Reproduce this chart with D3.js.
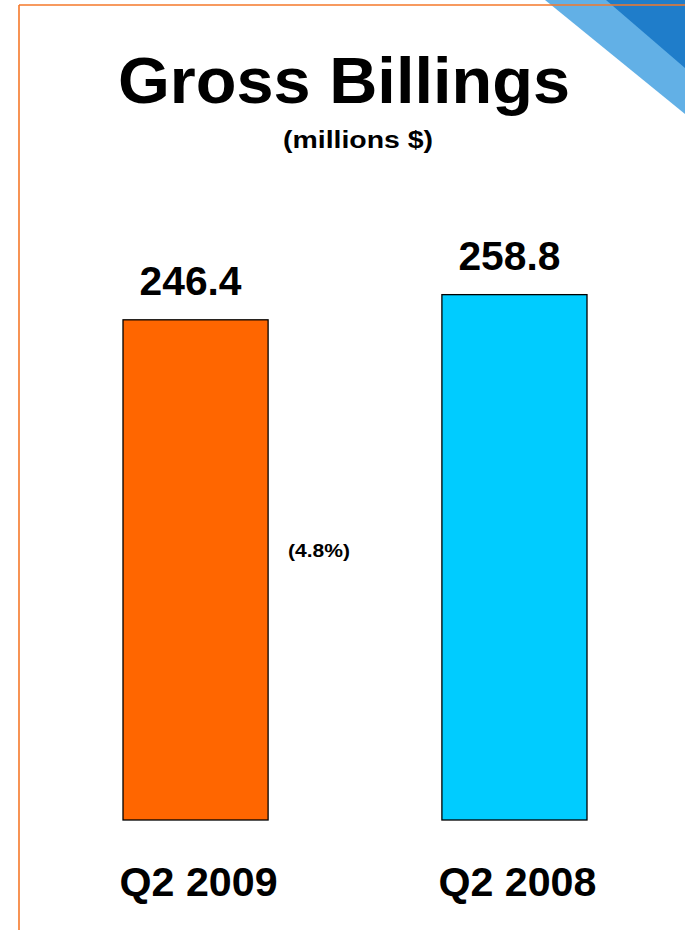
<!DOCTYPE html>
<html>
<head>
<meta charset="utf-8">
<script src="https://cdn.jsdelivr.net/npm/d3@7"></script>
<style>
  html, body { margin: 0; padding: 0; background: #ffffff; }
  svg { display: block; font-family: "Liberation Sans", Arial, sans-serif; }
</style>
</head>
<body>
<svg id="chart" width="685" height="930"></svg>
<script>
// Gross billings, millions of dollars
const categories = ["Q2 2009", "Q2 2008"];
const billings = [246.4, 258.8];
const valueLabels = ["246.4", "258.8"];
const barColors = ["#FF6600", "#00CCFF"];
const changeLabel = "(4.8%)";
const titleText = "Gross Billings";
const subtitleText = "(millions $)";

const svg = d3.select("#chart");
const W = 685, H = 930;

// Corner ornament: two diagonal blue bands in the upper right
const corner = svg.append("g");
corner.append("polygon")
  .attr("points", [[545, 0], [685, 0], [685, 114]].map(p => p.join(",")).join(" "))
  .attr("fill", "#62B0E6");
corner.append("polygon")
  .attr("points", [[606, 0], [685, 0], [685, 68]].map(p => p.join(",")).join(" "))
  .attr("fill", "#1F7DCA");

// Slide frame lines
svg.append("line").attr("x1", 19).attr("y1", 5).attr("x2", W).attr("y2", 5)
  .attr("stroke", "#F5782A").attr("stroke-width", 1.6);
svg.append("line").attr("x1", 19).attr("y1", 5).attr("x2", 19).attr("y2", H)
  .attr("stroke", "#F5782A").attr("stroke-width", 1.6);

// Scales
const x = d3.scaleBand()
  .domain(categories)
  .range([123, 587])
  .paddingInner(0.545)
  .paddingOuter(0);

const y = d3.scaleLinear()
  .domain([0, 300])
  .range([820, 211]);

// Bars
svg.append("g").selectAll("rect")
  .data(categories)
  .join("rect")
  .attr("x", d => x(d))
  .attr("y", (d, i) => y(billings[i]))
  .attr("width", x.bandwidth())
  .attr("height", (d, i) => y(0) - y(billings[i]))
  .attr("fill", (d, i) => barColors[i])
  .attr("stroke", "#000")
  .attr("stroke-width", 1.3);

// Value labels above bars
svg.append("g").selectAll("text")
  .data(categories)
  .join("text")
  .attr("x", d => x(d) + x.bandwidth() / 2 - 5)
  .attr("y", (d, i) => y(billings[i]) - 25)
  .attr("text-anchor", "middle")
  .attr("font-size", 40)
  .attr("font-weight", "bold")
  .attr("textLength", 102)
  .attr("lengthAdjust", "spacingAndGlyphs")
  .text((d, i) => valueLabels[i]);

// Category labels under bars
svg.append("g").selectAll("text")
  .data(categories)
  .join("text")
  .attr("x", d => x(d) + x.bandwidth() / 2 + 3)
  .attr("y", 896)
  .attr("text-anchor", "middle")
  .attr("font-size", 40)
  .attr("font-weight", "bold")
  .attr("textLength", 158)
  .attr("lengthAdjust", "spacingAndGlyphs")
  .text(d => d);

// Year-over-year change between the bars
svg.append("text")
  .attr("x", (x(categories[0]) + x.bandwidth() + x(categories[1])) / 2 - 36)
  .attr("y", 557)
  .attr("text-anchor", "middle")
  .attr("font-size", 19)
  .attr("font-weight", "bold")
  .attr("textLength", 62)
  .attr("lengthAdjust", "spacingAndGlyphs")
  .text(changeLabel);

// Title and unit line
svg.append("text")
  .attr("x", 344)
  .attr("y", 103)
  .attr("text-anchor", "middle")
  .attr("font-size", 65)
  .attr("font-weight", "bold")
  .attr("textLength", 452)
  .attr("lengthAdjust", "spacingAndGlyphs")
  .text(titleText);

svg.append("text")
  .attr("x", 358)
  .attr("y", 148)
  .attr("text-anchor", "middle")
  .attr("font-size", 23)
  .attr("font-weight", "bold")
  .attr("textLength", 150)
  .attr("lengthAdjust", "spacingAndGlyphs")
  .text(subtitleText);
</script>
</body>
</html>
